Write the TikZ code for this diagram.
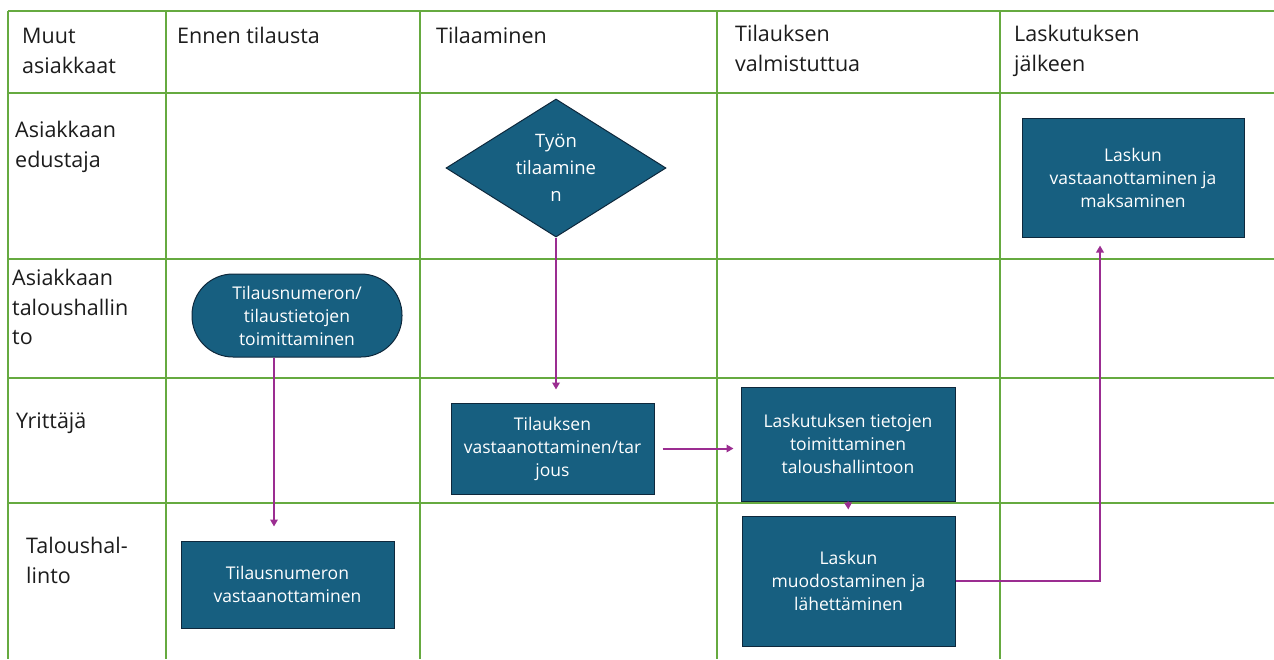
\documentclass[tikz,border=0pt]{standalone}
\usepackage{fontspec}
\setmainfont{Open Sans}
\usetikzlibrary{shapes.geometric,arrows.meta}
\definecolor{lanegreen}{RGB}{102,170,64}
\definecolor{boxblue}{RGB}{23,95,128}
\definecolor{boxline}{RGB}{14,40,60}
\definecolor{flowpurple}{RGB}{155,45,145}
\definecolor{labelgray}{RGB}{28,28,28}

\begin{document}
\begin{tikzpicture}[x=1pt,y=-1pt]

      \useasboundingbox (0,0) rectangle (1274,659);

      \begin{scope}[color=lanegreen, line width=2.8pt]
        \foreach \y in {11,93,259,378,503} \draw (8,\y) -- (1274,\y);
        \foreach \x in {8,166,420,717,1000} \draw (\x,11) -- (\x,659);
      \end{scope}

      \begin{scope}[every node/.style={anchor=north west, inner sep=0pt, align=left,
          text=labelgray, font=\fontsize{21.5}{29.5}\selectfont}]
        \node (m)  at (22,28)   {Muut\\asiakkaat};
        \node (e)  at (177,27)  {Ennen tilausta};
        \node (t)  at (436,27)  {Tilaaminen};
        \node (v)  at (735,25)  {Tilauksen\\valmistuttua};
        \node (j)  at (1014,25) {Laskutuksen\\jälkeen};
        \node (ae) at (15,121)  {Asiakkaan\\edustaja};
        \node (at) at (12,269)  {Asiakkaan\\taloushallin\\to};
        \node (y)  at (16,413)  {Yrittäjä};
        \node (th) at (26,537)  {Taloushal-\\linto};
      \end{scope}

      \begin{scope}[every node/.style={fill=boxblue, draw=boxline, line width=1pt,
          text=white, align=center, inner sep=0pt, font=\fontsize{17.5}{23}\selectfont}]
        \node[rectangle, rounded corners=41pt, minimum width=210pt, minimum height=83pt]
          (1) at (297,315.5) {Tilausnumeron/\\tilaustietojen\\toimittaminen};
        \node[diamond, aspect=1.6, minimum width=220pt, minimum height=138pt,
            font=\fontsize{18.5}{27}\selectfont]
          (2) at (556,168) {Työn\\tilaamine\\n};
        \node[rectangle, minimum width=203pt, minimum height=91pt]
          (3) at (552.5,448.5) {Tilauksen\\vastaanottaminen/tar\\jous};
        \node[rectangle, minimum width=214pt, minimum height=114pt]
          (4) at (848,444) {Laskutuksen tietojen\\toimittaminen\\taloushallintoon};
        \node[rectangle, minimum width=213pt, minimum height=130pt]
          (5) at (848.5,581) {Laskun\\muodostaminen ja\\lähettäminen};
        \node[rectangle, minimum width=213pt, minimum height=87pt]
          (6) at (287.5,584.5) {Tilausnumeron\\vastaanottaminen};
        \node[rectangle, minimum width=222pt, minimum height=119pt]
          (7) at (1133,177.5) {Laskun\\vastaanottaminen ja\\maksaminen};
      \end{scope}

      \begin{scope}[every edge/.style={draw, color=flowpurple, line width=2pt,
          -{Triangle[length=7pt,width=7.5pt]}}]
        \path (2.south) edge[shorten >=13pt] (2.south |- 3.north);
        \path ([xshift=-23pt]1.south) edge[shorten >=14pt] ([xshift=-23pt]1.south |- 6.north);
        \path (3.east) edge[shorten <=8pt, shorten >=7pt] (3.east -| 4.west);
        \path (4.south) edge[shorten >=6pt] (5.north);
        \path (5.east) edge[to path={-| (\tikztotarget)}, shorten >=8pt] ([xshift=-33pt]7.south);
      \end{scope}

    \end{tikzpicture}
\end{document}
